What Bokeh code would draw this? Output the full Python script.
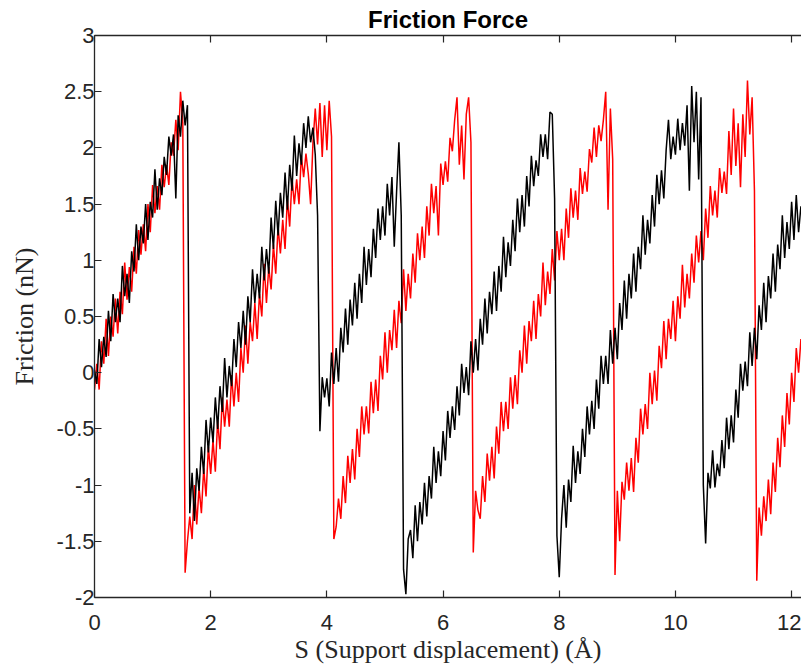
import numpy as np
from bokeh.plotting import figure
from bokeh.models import Range1d, FixedTicker, LinearAxis, CustomJSTickFormatter
from bokeh.embed import file_html
from bokeh.resources import INLINE

# Support displacement sampling step (Angstrom)
s_step = 0.04

# Friction force (nN) sampled every s_step, first run (black)
friction_black = [
    0.02, -0.10, 0.30, 0.05, 0.32, 0.14, 0.55, 0.28, 0.70, 0.45,
    0.66, 0.45, 0.95, 0.68, 0.88, 0.62, 1.08, 0.90, 1.32, 1.00,
    1.30, 1.15, 1.50, 1.18, 1.52, 1.38, 1.81, 1.45, 1.73, 1.58,
    1.92, 1.76, 2.10, 1.93, 2.12, 1.55, 2.29, 2.10, 2.42, 2.20,
    2.38, -1.25, -0.89, -1.32, -0.85, -1.05, -0.66, -0.90, -0.42, -0.71,
    -0.40, -0.62, -0.22, -0.50, -0.12, -0.35, 0.13, -0.22, 0.06, -0.12,
    0.30, 0.05, 0.45, 0.22, 0.55, 0.25, 0.68, 0.45, 0.92, 0.62,
    0.88, 0.66, 1.12, 0.82, 1.10, 0.88, 1.38, 1.10, 1.53, 1.22,
    1.60, 1.38, 1.78, 1.45, 1.85, 1.62, 2.11, 1.75, 2.04, 1.85,
    2.22, 2.00, 2.28, 2.05, 2.18, 1.94, 1.40, -0.52, -0.04, -0.22,
    -0.05, -0.30, 0.18, -0.10, 0.22, -0.08, 0.40, 0.18, 0.57, 0.25,
    0.65, 0.42, 0.80, 0.48, 0.88, 0.62, 1.12, 0.78, 1.10, 0.85,
    1.28, 1.02, 1.46, 1.18, 1.48, 1.22, 1.68, 1.40, 1.74, 1.12,
    1.61, 2.05, 1.40, -1.75, -1.97, -1.48, -1.40, -1.65, -1.18, -1.50,
    -1.15, -1.35, -0.98, -1.28, -0.92, -1.12, -0.66, -0.98, -0.70, -0.92,
    -0.52, -0.78, -0.34, -0.58, -0.30, -0.51, -0.12, -0.38, 0.08, -0.18,
    0.05, -0.20, 0.28, 0.00, 0.30, 0.02, 0.48, 0.25, 0.66, 0.35,
    0.72, 0.52, 0.90, 0.55, 0.95, 0.72, 1.21, 0.85, 1.16, 0.95,
    1.36, 1.08, 1.55, 1.25, 1.58, 1.30, 1.75, 1.48, 1.93, 1.66,
    1.89, 1.75, 2.12, 1.92, 2.12, 1.90, 2.32, 2.30, 1.55, -1.45,
    -1.82, -1.30, -1.00, -1.38, -0.95, -1.15, -0.65, -0.98, -0.70, -0.90,
    -0.50, -0.75, -0.30, -0.55, -0.25, -0.50, -0.06, -0.32, 0.15, -0.10,
    0.15, -0.10, 0.38, 0.08, 0.40, 0.12, 0.62, 0.38, 0.82, 0.48,
    0.88, 0.66, 1.06, 0.72, 1.12, 0.92, 1.40, 1.05, 1.36, 1.15,
    1.58, 1.30, 1.76, 1.50, 1.80, 1.55, 1.98, 2.25, 1.90, 2.10,
    1.94, 2.26, 1.98, 2.22, 2.02, 2.38, 1.62, 2.55, 2.05, 2.50,
    1.72, 2.45, -1.00, -1.52, -0.89, -1.03, -0.69, -1.02, -0.81, -0.92,
    -0.60, -0.85, -0.40, -0.68, -0.38, -0.62, -0.15, -0.40, 0.08, -0.16,
    0.10, -0.12, 0.36, 0.06, 0.40, 0.12, 0.60, 0.38, 0.80, 0.45,
    0.86, 0.66, 1.06, 0.72, 1.14, 0.92, 1.40, 1.02, 1.34, 1.10,
    1.52, 1.18, 1.58, 1.25, 1.48,
]

# Friction force (nN) sampled every s_step, second run (red)
friction_red = [
    -0.15, 0.08, -0.15, 0.28, 0.08, 0.48, 0.15, 0.50, 0.32, 0.66,
    0.35, 0.72, 0.52, 0.98, 0.65, 0.94, 0.72, 1.12, 0.88, 1.27,
    1.05, 1.32, 1.08, 1.50, 1.25, 1.67, 1.42, 1.66, 1.45, 1.85,
    1.65, 1.85, 1.67, 2.05, 1.93, 2.25, 1.98, 2.50, 2.22, -1.78,
    -1.50, -1.28, -1.48, -1.00, -1.35, -1.02, -1.25, -0.85, -1.10, -0.66,
    -0.90, -0.60, -0.88, -0.42, -0.68, -0.22, -0.48, -0.24, -0.48, -0.02,
    -0.30, 0.00, -0.26, 0.22, 0.00, 0.42, 0.08, 0.45, 0.28, 0.62,
    0.30, 0.70, 0.50, 0.97, 0.62, 0.94, 0.74, 1.14, 0.88, 1.30,
    1.06, 1.36, 1.10, 1.55, 1.30, 1.73, 1.50, 1.72, 1.50, 1.93,
    1.74, 1.95, 1.77, 1.50, 2.04, 2.35, 2.03, 2.40, 1.92, 2.38,
    1.98, 2.42, 2.10, -1.48, -1.37, -1.12, -1.30, -0.92, -1.16, -0.74,
    -0.98, -0.68, -0.95, -0.50, -0.75, -0.30, -0.55, -0.30, -0.54, -0.08,
    -0.36, -0.06, -0.34, 0.15, -0.06, 0.36, 0.00, 0.38, 0.20, 0.56,
    0.22, 0.64, 0.44, 0.92, 0.55, 0.88, 0.66, 1.06, 0.80, 1.24,
    1.00, 1.30, 1.02, 1.48, 1.22, 1.68, 1.42, 1.66, 1.22, 1.86,
    1.67, 1.88, 1.70, 2.09, 1.97, 2.25, 2.45, 1.85, 2.20, 1.72,
    2.30, 2.45, 2.05, -1.60, -1.05, -1.22, -1.30, -0.92, -1.15, -0.72,
    -0.96, -0.66, -0.94, -0.48, -0.72, -0.26, -0.52, -0.26, -0.50, -0.04,
    -0.32, -0.02, -0.28, 0.20, 0.00, 0.42, 0.08, 0.46, 0.28, 0.64,
    0.30, 0.70, 0.50, 0.98, 0.60, 0.90, 0.70, 1.10, 0.82, 1.26,
    1.00, 1.28, 1.00, 1.46, 1.20, 1.64, 1.38, 1.62, 1.36, 1.82,
    1.59, 1.79, 1.61, 1.99, 1.87, 2.18, 1.92, 2.20, 2.06, 2.25,
    2.50, 1.45, 2.35, 1.90, -1.80, -1.05, -1.50, -0.97, -1.13, -0.80,
    -1.05, -0.76, -1.06, -0.58, -0.80, -0.32, -0.55, -0.28, -0.50, 0.00,
    -0.28, 0.02, -0.25, 0.24, 0.04, 0.46, 0.12, 0.48, 0.30, 0.64,
    0.28, 0.68, 0.48, 0.96, 0.58, 0.88, 0.66, 1.06, 0.80, 1.22,
    0.98, 1.26, 1.00, 1.46, 1.20, 1.66, 1.40, 1.62, 1.38, 1.82,
    1.60, 1.79, 1.59, 2.15, 1.76, 2.35, 1.84, 2.22, 1.65, 2.30,
    1.92, 2.60, 2.12, 2.45, 1.62, -1.85, -1.20, -1.45, -1.10, -1.32,
    -0.95, -1.26, -0.80, -1.06, -0.58, -0.84, -0.38, -0.66, -0.18, -0.46,
    0.00, -0.26, 0.22, 0.00, 0.30,
]

x_ticks = [0, 2, 4, 6, 8, 10, 12]
y_ticks = [-2, -1.5, -1, -0.5, 0, 0.5, 1, 1.5, 2, 2.5, 3]

s_black = np.arange(len(friction_black)) * s_step
s_red = np.arange(len(friction_red)) * s_step

AX = "#262626"

p = figure(width=801, height=668, output_backend="svg", toolbar_location=None,
           x_range=Range1d(0, 12.17), y_range=Range1d(-2, 3),
           min_border_left=94, min_border_right=0, min_border_top=35,
           min_border_bottom=71, background_fill_color="white",
           border_fill_color="white", outline_line_color=None)
p.grid.visible = False

p.title.text = "Friction Force"
p.title.align = "center"
p.title.offset = 4
p.title.text_font = "Liberation Sans"
p.title.text_font_style = "bold"
p.title.text_font_size = "24px"
p.title.text_color = "#000000"
p.title.standoff = 5

p.line(s_red, friction_red, line_color="#ff0000", line_width=1.5)
p.line(s_black, friction_black, line_color="#000000", line_width=1.5)

bottom_axis = p.below[0]
left_axis = p.left[0]

label_fmt = CustomJSTickFormatter(code="return String(tick);")

top_axis = LinearAxis(ticker=FixedTicker(ticks=x_ticks),
                      formatter=CustomJSTickFormatter(code="return '';"))
p.add_layout(top_axis, "above")

bottom_axis.ticker = FixedTicker(ticks=x_ticks)
left_axis.ticker = FixedTicker(ticks=y_ticks)
bottom_axis.formatter = label_fmt
left_axis.formatter = label_fmt

for ax in [bottom_axis, left_axis, top_axis]:
    ax.axis_line_color = AX
    ax.axis_line_width = 1.3
    ax.major_tick_line_color = AX
    ax.major_tick_line_width = 1.2
    ax.major_tick_in = 7
    ax.major_tick_out = 0
    ax.minor_tick_line_color = None
    ax.major_label_text_font = "Liberation Sans"
    ax.major_label_text_font_size = "22px"
    ax.major_label_text_color = AX

top_axis.major_label_text_font_size = "1px"
top_axis.major_label_standoff = 0

bottom_axis.major_label_standoff = 17
left_axis.major_label_standoff = 0

bottom_axis.axis_label = "S (Support displacement) (\u00c5)"
left_axis.axis_label = "Friction (nN)"
for ax in [bottom_axis, left_axis]:
    ax.axis_label_text_font = "Liberation Serif"
    ax.axis_label_text_font_size = "26px"
    ax.axis_label_text_font_style = "normal"
    ax.axis_label_text_color = AX
bottom_axis.axis_label_standoff = 2
left_axis.axis_label_standoff = 15

open("out.html", "w").write(file_html(p, INLINE))
